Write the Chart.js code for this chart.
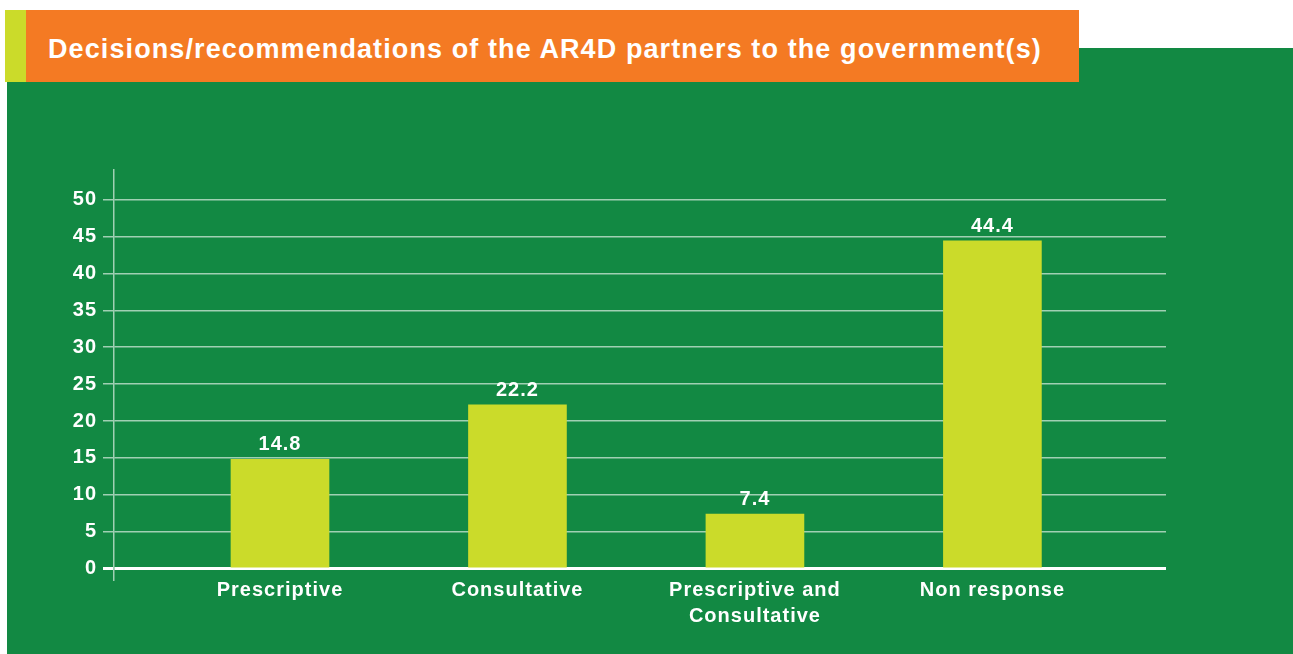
<!DOCTYPE html>
<html>
<head>
<meta charset="utf-8">
<script src="https://cdn.jsdelivr.net/npm/chart.js@4/dist/chart.umd.min.js"></script>
<style>
  body { margin: 0; background: #fff; width: 1293px; height: 654px; position: relative; overflow: hidden; font-family: "Liberation Sans", Arial, sans-serif; }
  #panel { position: absolute; left: 7px; top: 48px; width: 1286px; height: 606px; background: #128943; }
  #strip { position: absolute; left: 5px; top: 10px; width: 21px; height: 72px; background: #cbdb2a; }
  #titlebar { position: absolute; left: 26px; top: 10px; width: 1053px; height: 72px; background: #f47a23; }
  #title { position: absolute; left: 48px; top: 36px; font-size: 27px; line-height: 27px; letter-spacing: 1.1px; font-weight: bold; color: #fff; white-space: nowrap; }
  #chart { position: absolute; left: 0; top: 0; }
</style>
</head>
<body>
<div id="panel"></div>
<div id="strip"></div>
<div id="titlebar"></div>
<div id="title">Decisions/recommendations of the AR4D partners to the government(s)</div>
<canvas id="chart" width="1293" height="654"></canvas>
<script>
// chart data
const categories = ['Prescriptive', 'Consultative', ['Prescriptive and', 'Consultative'], 'Non response'];
const values = [14.8, 22.2, 7.4, 44.4];
const yTicks = [0, 5, 10, 15, 20, 25, 30, 35, 40, 45, 50];

const white = '#ffffff';
const gridColor = 'rgba(255, 255, 255, 0.6)';
const barColor = '#cbdb2a';
const fontFamily = '"Liberation Sans", Arial, sans-serif';

// slightly wider lettering for all canvas text
const spacing = {
    id: 'spacing',
    beforeDraw(chart) {
        chart.ctx.letterSpacing = '1px';
    }
};

// value labels above each bar
const barLabels = {
    id: 'barLabels',
    afterDatasetsDraw(chart) {
        const c = chart.ctx;
        const meta = chart.getDatasetMeta(0);
        c.save();
        c.fillStyle = white;
        c.font = 'bold 20px ' + fontFamily;
        c.textAlign = 'center';
        c.textBaseline = 'alphabetic';
        meta.data.forEach((bar, i) => {
            c.fillText(values[i].toFixed(1), bar.x, bar.y - 9);
        });
        c.restore();
    }
};

const ctx = document.getElementById('chart').getContext('2d');
const myChart = new Chart(ctx, {
    type: 'bar',
    data: {
        datasets: [{
            data: values.map((v, i) => ({ x: i, y: v })),
            backgroundColor: barColor,
            barThickness: 98,
            borderWidth: 0
        }]
    },
    options: {
        responsive: false,
        animation: false,
        layout: {
            padding: { left: 54, top: 170, right: 127, bottom: 0 }
        },
        plugins: {
            legend: { display: false },
            tooltip: { enabled: false }
        },
        scales: {
            x: {
                type: 'linear',
                offset: false,
                min: -0.699,
                max: 3.731,
                afterFit: (scale) => { scale.height = 75; },
                afterBuildTicks: (scale) => {
                    scale.ticks = categories.map((c, i) => ({ value: i }));
                },
                grid: { display: false, drawTicks: false },
                border: { display: false },
                ticks: {
                    padding: -2,
                    color: white,
                    font: { family: fontFamily, size: 20, weight: 'bold', lineHeight: 1.3 },
                    maxRotation: 0,
                    autoSkip: false,
                    callback: (value) => categories[value]
                }
            },
            y: {
                min: -1.4,
                max: 54,
                afterFit: (scale) => { scale.width = 60; },
                afterBuildTicks: (scale) => {
                    scale.ticks = yTicks.map(v => ({ value: v }));
                },
                grid: {
                    color: (c) => c.tick && c.tick.value === 0 ? white : gridColor,
                    lineWidth: (c) => c.tick && c.tick.value === 0 ? 3 : 1.5,
                    tickLength: 11
                },
                border: { display: true, color: gridColor, width: 1.5 },
                ticks: {
                    padding: 6,
                    color: white,
                    font: { family: fontFamily, size: 20, weight: 'bold' }
                }
            }
        }
    },
    plugins: [spacing, barLabels]
});
</script>
</body>
</html>
